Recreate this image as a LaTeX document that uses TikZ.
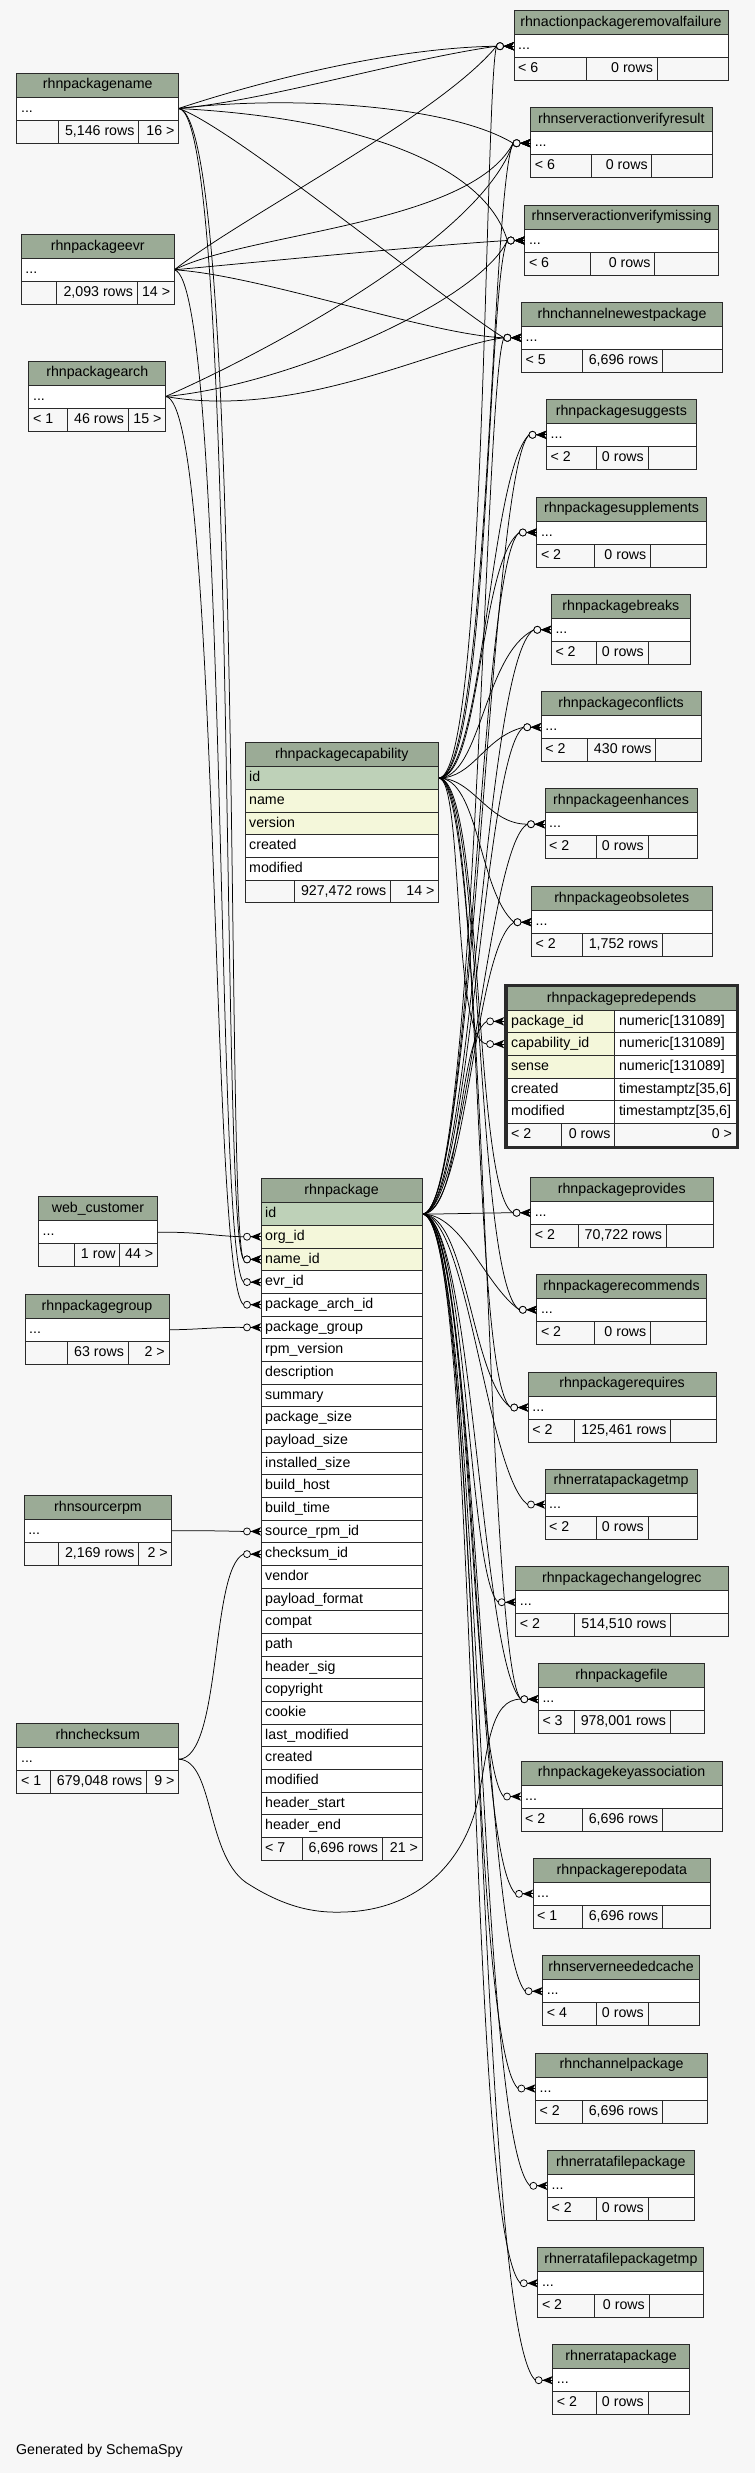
\documentclass[tikz,border=0pt]{standalone}
\usepackage{fontspec}
\setmainfont{Liberation Sans}
\usetikzlibrary{calc}
\pgfdeclarelayer{bgl}
\pgfdeclarelayer{edges}
\pgfsetlayers{bgl,edges,main}
\definecolor{bgc}{HTML}{F7F7F7}
\definecolor{hdrc}{HTML}{9BAB96}
\definecolor{pkc}{HTML}{BED1B8}
\definecolor{idxc}{HTML}{F4F7DA}
\definecolor{bordc}{HTML}{2A2A2A}
\tikzset{
  cell/.style={draw=bordc, line width=0.9pt, inner sep=0pt, outer sep=0pt, anchor=north west},
  txt/.style={inner sep=0pt, text height=10.4pt, text depth=3pt},
  fk/.style={black, line width=0.75pt},
  crowodot/.pic={
    \fill[black] (-10.5,0) -- (0,-4.2) -- (-2.5,0) -- (0,4.2) -- cycle;
    \draw[black, line width=0.75pt] (-10.5,0) -- (0,0);
    \draw[black, line width=0.75pt, fill=bgc] (-14,0) circle[radius=3.5pt];
  }
}
\newcommand\fk[4]{%
  \begin{pgfonlayer}{edges}\draw[fk] (#1.east) .. controls #3 and #4 .. ($(#2)+(-17.5,0)$);\end{pgfonlayer}
  \pic at (#2) {crowodot};}
\begin{document}
\begin{tikzpicture}[x=1pt,y=-1pt,font=\fontsize{14.2pt}{16pt}\selectfont]
\begin{pgfonlayer}{bgl}
\fill[bgc] (0,0) rectangle (755,2473);
\end{pgfonlayer}
\useasboundingbox (0,0) rectangle (755,2473);

% ---------- small tables: name/title/left/top/right/split1/split2/foot1/foot2/foot3
\foreach \nm/\ttl/\L/\T/\R/\sa/\sb/\fa/\fb/\fc in {
  rf/rhnactionpackageremovalfailure/514/10.7/728/586.4/657.2/{< 6}/{0 rows}/{},
  savr/rhnserveractionverifyresult/530.6/107.7/712/591.7/651.9/{< 6}/{0 rows}/{},
  savm/rhnserveractionverifymissing/524.8/205/718.3/590.3/654.8/{< 6}/{0 rows}/{},
  cnp/rhnchannelnewestpackage/521.4/302.3/722.7/582.6/662.5/{< 5}/{6,696 rows}/{},
  sug/rhnpackagesuggests/546.5/399.3/696.2/596/648/{< 2}/{0 rows}/{},
  sup/rhnpackagesupplements/536.8/497/706.3/594.6/650.5/{< 2}/{0 rows}/{},
  brk/rhnpackagebreaks/551.3/594.3/690.4/596/648/{< 2}/{0 rows}/{},
  cnf/rhnpackageconflicts/541.2/691.7/701/587.4/655.8/{< 2}/{430 rows}/{},
  enh/rhnpackageenhances/545/788.7/697.2/596/648/{< 2}/{0 rows}/{},
  obs/rhnpackageobsoletes/531.5/886.7/712/582.6/662.5/{< 2}/{1,752 rows}/{},
  prv/rhnpackageprovides/530.6/1177.3/713/578.2/666.3/{< 2}/{70,722 rows}/{},
  rec/rhnpackagerecommends/536.8/1274.3/706.3/594.6/650.5/{< 2}/{0 rows}/{},
  req/rhnpackagerequires/528.2/1372/716/574.4/670.7/{< 2}/{125,461 rows}/{},
  ept/rhnerratapackagetmp/545/1469/697.2/596/648/{< 2}/{0 rows}/{},
  chl/rhnpackagechangelogrec/515.7/1566.7/728/574.4/670.7/{< 2}/{514,510 rows}/{},
  fil/rhnpackagefile/538.3/1663.7/704.9/574.4/670.2/{< 3}/{978,001 rows}/{},
  key/rhnpackagekeyassociation/521/1761/722.2/582.6/662.5/{< 2}/{6,696 rows}/{},
  rep/rhnpackagerepodata/533/1858.3/710.6/582.6/662.5/{< 1}/{6,696 rows}/{},
  snc/rhnserverneededcache/542.6/1955.7/699.6/596/648/{< 4}/{0 rows}/{},
  chp/rhnchannelpackage/535.4/2053/707.8/582.6/662.5/{< 2}/{6,696 rows}/{},
  efp/rhnerratafilepackage/547.4/2150.3/694.3/596/648/{< 2}/{0 rows}/{},
  eft/rhnerratafilepackagetmp/537.8/2247.7/703.9/594.6/649/{< 2}/{0 rows}/{},
  erp/rhnerratapackage/552.7/2344.7/689.5/596/648/{< 2}/{0 rows}/{},
  pn/rhnpackagename/16.9/73/178.6/58.3/138.7/{}/{5,146 rows}/{16 >},
  pe/rhnpackageevr/21.2/234.3/174.3/56.8/137.2/{}/{2,093 rows}/{14 >},
  pa/rhnpackagearch/28.9/361/165.6/67.4/128.1/{< 1}/{46 rows}/{15 >},
  wc/web\_customer/38.5/1196.7/157.4/74.6/119.9/{}/{1 row}/{44 >},
  pg/rhnpackagegroup/25/1294.3/169/67.9/128.1/{}/{63 rows}/{2 >},
  sr/rhnsourcerpm/24.1/1495.3/171.9/58.3/138.7/{}/{2,169 rows}/{2 >},
  ck/rhnchecksum/16.9/1723.7/178.6/50.6/146.4/{< 1}/{679,048 rows}/{9 >}}{
  \node[cell, fill=hdrc, minimum width={(\R-\L)*1pt}, minimum height=24pt] (\nm-h) at ({\L},{\T}) {};
  \node[txt] at (\nm-h.center) {\ttl};
  \node[cell, fill=white, minimum width={(\R-\L)*1pt}, minimum height=23pt] (\nm) at ({\L},{\T+24}) {};
  \node[txt, anchor=west] at ([xshift=4pt]\nm.west) {...};
  \coordinate (\nm-in) at (\nm.west);
  \node[cell, fill=bgc, minimum width={(\sa-\L)*1pt}, minimum height=23pt] (\nm-f1) at ({\L},{\T+47}) {};
  \node[cell, fill=bgc, minimum width={(\sb-\sa)*1pt}, minimum height=23pt] (\nm-f2) at ({\sa},{\T+47}) {};
  \node[cell, fill=bgc, minimum width={(\R-\sb)*1pt}, minimum height=23pt] (\nm-f3) at ({\sb},{\T+47}) {};
  \node[txt, anchor=west] at ([xshift=4pt]\nm-f1.west) {\fa};
  \node[txt, anchor=east] at ([xshift=-4pt]\nm-f2.east) {\fb};
  \node[txt, anchor=east] at ([xshift=-4pt]\nm-f3.east) {\fc};
}

% ---------- rhnpackage
\node[cell, fill=hdrc, minimum width=161.2pt, minimum height=24.4pt] (p-h) at (261,1178.3) {};
\node[txt] at (p-h.center) {rhnpackage};
\foreach \k/\t/\f [count=\i from 0] in {id/id/pkc, org/org\_id/idxc, name/name\_id/idxc,
  evr/evr\_id/white, arch/package\_arch\_id/white, grp/package\_group/white,
  rpmv/rpm\_version/white, desc/description/white, sum/summary/white,
  psz/package\_size/white, plsz/payload\_size/white, isz/installed\_size/white,
  bh/build\_host/white, bt/build\_time/white, src/source\_rpm\_id/white,
  chk/checksum\_id/white, ven/vendor/white, plf/payload\_format/white,
  cmp/compat/white, path/path/white, hs/header\_sig/white, cpy/copyright/white,
  cook/cookie/white, lm/last\_modified/white, cr/created/white, md/modified/white,
  hst/header\_start/white, hend/header\_end/white}{
  \node[cell, fill=\f, minimum width=161.2pt, minimum height=22.67pt] (p-\k) at (261,{1202.7+\i*22.67}) {};
  \node[txt, anchor=west] at ([xshift=4pt]p-\k.west) {\t};
  \coordinate (p-\k-in) at (p-\k.west);
}
\node[cell, fill=bgc, minimum width=41.4pt, minimum height=22.67pt] (p-f1) at (261,1837.5) {};
\node[cell, fill=bgc, minimum width=79.9pt, minimum height=22.67pt] (p-f2) at (302.4,1837.5) {};
\node[cell, fill=bgc, minimum width=39.9pt, minimum height=22.67pt] (p-f3) at (382.3,1837.5) {};
\node[txt, anchor=west] at ([xshift=4pt]p-f1.west) {< 7};
\node[txt, anchor=east] at ([xshift=-4pt]p-f2.east) {6,696 rows};
\node[txt, anchor=east] at ([xshift=-4pt]p-f3.east) {21 >};

% ---------- rhnpackagecapability
\node[cell, fill=hdrc, minimum width=193.6pt, minimum height=24.4pt] (cap-h) at (245,742.3) {};
\node[txt] at (cap-h.center) {rhnpackagecapability};
\foreach \k/\t/\f [count=\i from 0] in {id/id/pkc, name/name/idxc, ver/version/idxc, cr/created/white, md/modified/white}{
  \node[cell, fill=\f, minimum width=193.6pt, minimum height=22.67pt] (cap-\k) at (245,{766.7+\i*22.67}) {};
  \node[txt, anchor=west] at ([xshift=4pt]cap-\k.west) {\t};
}
\node[cell, fill=bgc, minimum width=49.7pt, minimum height=22.67pt] (cap-f1) at (245,880.05) {};
\node[cell, fill=bgc, minimum width=95.8pt, minimum height=22.67pt] (cap-f2) at (294.7,880.05) {};
\node[cell, fill=bgc, minimum width=48.1pt, minimum height=22.67pt] (cap-f3) at (390.5,880.05) {};
\node[txt, anchor=east] at ([xshift=-4pt]cap-f2.east) {927,472 rows};
\node[txt, anchor=east] at ([xshift=-4pt]cap-f3.east) {14 >};

% ---------- rhnpackagepredepends
\node[cell, fill=hdrc, minimum width=229.2pt, minimum height=23.3pt] (pd-h) at (507,986.7) {};
\node[txt] at (pd-h.center) {rhnpackagepredepends};
\foreach \k/\t/\f/\ty [count=\i from 0] in {pkg/package\_id/idxc/{numeric[131089]},
  cap/capability\_id/idxc/{numeric[131089]}, sense/sense/idxc/{numeric[131089]},
  cr/created/white/{timestamptz[35,6]}, md/modified/white/{timestamptz[35,6]}}{
  \node[cell, fill=\f, minimum width=107.8pt, minimum height=22.7pt] (pd-\k) at (507,{1010+\i*22.7}) {};
  \node[cell, fill=white, minimum width=121.4pt, minimum height=22.7pt] (pd-\k-t) at (614.8,{1010+\i*22.7}) {};
  \node[txt, anchor=west] at ([xshift=4pt]pd-\k.west) {\t};
  \node[txt, anchor=west] at ([xshift=4pt]pd-\k-t.west) {\ty};
}
\node[cell, fill=bgc, minimum width=54pt, minimum height=22.7pt] (pd-f1) at (507,1123.5) {};
\node[cell, fill=bgc, minimum width=53.8pt, minimum height=22.7pt] (pd-f2) at (561,1123.5) {};
\node[cell, fill=bgc, minimum width=121.4pt, minimum height=22.7pt] (pd-f3) at (614.8,1123.5) {};
\node[txt, anchor=west] at ([xshift=4pt]pd-f1.west) {< 2};
\node[txt, anchor=east] at ([xshift=-4pt]pd-f2.east) {0 rows};
\node[txt, anchor=east] at ([xshift=-4pt]pd-f3.east) {0 >};
\draw[bordc, line width=2.8pt] (505.5,985) rectangle (737.6,1147.6);
\coordinate (pd-pkg-in) at (504.1,1021.35);
\coordinate (pd-cap-in) at (504.1,1044.05);

\node[txt, anchor=west] (gen) at (15.9,2451) {Generated by SchemaSpy};

% ---------- connectors from the left parents
\fk{pn}{rf-in}{(240,88)}{(380,48)}
\fk{pn}{rf-in}{(270,100)}{(400,60)}
\fk{pn}{savr-in}{(290,95)}{(450,105)}
\fk{pn}{savm-in}{(360,118)}{(485,165)}
\fk{pn}{cnp-in}{(230,125)}{(450,305)}
\fk{pe}{rf-in}{(245,215)}{(440,115)}
\fk{pe}{savr-in}{(250,232)}{(470,225)}
\fk{pe}{savm-in}{(260,262)}{(420,246)}
\fk{pe}{cnp-in}{(260,275)}{(430,335)}
\fk{pa}{savr-in}{(260,355)}{(480,240)}
\fk{pa}{savm-in}{(290,385)}{(480,300)}
\fk{pa}{cnp-in}{(300,420)}{(440,345)}
\fk{pn}{p-name-in}{(245,115)}{(225,1225)}
\fk{pn}{p-name-in}{(238,112)}{(220,1228)}
\fk{pe}{p-evr-in}{(228,280)}{(215,1255)}
\fk{pa}{p-arch-in}{(220,400)}{(210,1280)}
\fk{wc}{p-org-in}{(200,1231.7)}{(215,1236.3)}
\fk{pg}{p-grp-in}{(200,1329.5)}{(215,1327)}
\fk{sr}{p-src-in}{(200,1530.5)}{(215,1530.8)}
\fk{ck}{p-chk-in}{(222,1758.7)}{(210,1570)}
\begin{pgfonlayer}{edges}
\draw[fk] (ck.east) .. controls (215,1760) and (205,1860) .. (250,1885)
  .. controls (290,1910) and (320,1913) .. (344,1912)
  .. controls (420,1910) and (465,1860) .. (478,1800)
  .. controls (488,1750) and (490,1698.7) .. ($(fil-in)+(-17.5,0)$);
\end{pgfonlayer}

% ---------- connectors from rhnpackagecapability.id
\fk{cap-id}{rf-in}{+(48,0)}{+(-12,45)}
\fk{cap-id}{savr-in}{+(50,0)}{+(-22,45)}
\fk{cap-id}{savm-in}{+(50,0)}{+(-20,40)}
\fk{cap-id}{sug-in}{+(45,0)}{+(-40,40)}
\fk{cap-id}{sup-in}{+(42,0)}{+(-40,30)}
\fk{cap-id}{brk-in}{+(42,0)}{+(-50,25)}
\fk{cap-id}{cnf-in}{+(35,0)}{+(-40,10)}
\fk{cap-id}{enh-in}{+(35,0)}{+(-40,0)}
\fk{cap-id}{obs-in}{+(40,0)}{+(-35,-30)}
\fk{cap-id}{pd-cap-in}{+(25,0)}{+(-35,-5)}
\fk{cap-id}{prv-in}{+(45,0)}{+(-40,-20)}
\fk{cap-id}{rec-in}{+(45,0)}{+(-45,-30)}
\fk{cap-id}{req-in}{+(45,0)}{+(-40,-30)}
\fk{cap-id}{fil-in}{+(48,0)}{+(-35,-40)}

% ---------- connectors from rhnpackage.id
\fk{p-id}{cnp-in}{+(55,0)}{+(-20,45)}
\fk{p-id}{sug-in}{+(52,0)}{+(-40,40)}
\fk{p-id}{sup-in}{+(50,0)}{+(-40,30)}
\fk{p-id}{brk-in}{+(50,0)}{+(-50,30)}
\fk{p-id}{cnf-in}{+(48,0)}{+(-40,25)}
\fk{p-id}{enh-in}{+(45,0)}{+(-40,20)}
\fk{p-id}{obs-in}{+(45,0)}{+(-40,25)}
\fk{p-id}{pd-pkg-in}{+(40,0)}{+(-30,20)}
\fk{p-id}{prv-in}{+(30,0)}{+(-30,0)}
\fk{p-id}{rec-in}{+(40,0)}{+(-35,-25)}
\fk{p-id}{req-in}{+(45,0)}{+(-40,-30)}
\fk{p-id}{ept-in}{+(45,0)}{+(-40,-30)}
\fk{p-id}{chl-in}{+(45,0)}{+(-30,-25)}
\fk{p-id}{fil-in}{+(50,0)}{+(-40,-40)}
\fk{p-id}{key-in}{+(50,0)}{+(-35,-40)}
\fk{p-id}{rep-in}{+(55,0)}{+(-45,-45)}
\fk{p-id}{snc-in}{+(55,0)}{+(-45,-50)}
\fk{p-id}{chp-in}{+(55,0)}{+(-50,-50)}
\fk{p-id}{efp-in}{+(58,0)}{+(-55,-55)}
\fk{p-id}{eft-in}{+(58,0)}{+(-55,-60)}
\fk{p-id}{erp-in}{+(60,0)}{+(-60,-60)}
\end{tikzpicture}
\end{document}
